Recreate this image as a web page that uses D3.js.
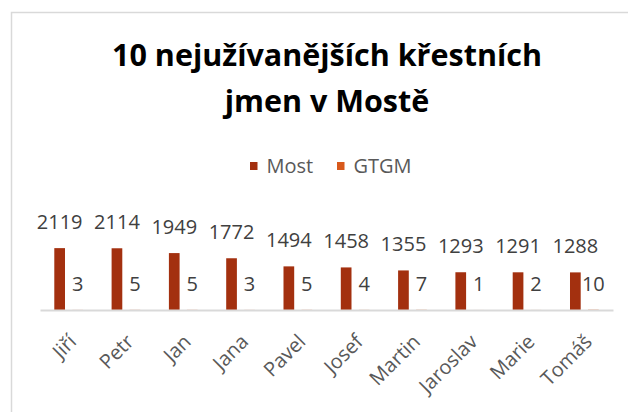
<!DOCTYPE html>
<html>
<head>
<meta charset="utf-8">
<script src="https://cdn.jsdelivr.net/npm/d3@7"></script>
<style>
  body { margin: 0; background: #fff; }
  svg { display: block; font-family: "Open Sans", sans-serif; }
</style>
</head>
<body>
<div id="chart-area"></div>
<script>
// data
var names = ["Jiří", "Petr", "Jan", "Jana", "Pavel", "Josef", "Martin", "Jaroslav", "Marie", "Tomáš"];
var most = [2119, 2114, 1949, 1772, 1494, 1458, 1355, 1293, 1291, 1288];
var gtgm = [3, 5, 5, 3, 5, 4, 7, 1, 2, 10];
var seriesNames = ["Most", "GTGM"];
var seriesColors = ["#a3300f", "#d8591c"];

var W = 628, H = 412;
var plot = { left: 40, right: 613, top: 237, bottom: 310 };

var svg = d3.select("#chart-area")
    .append("svg")
    .attr("width", W)
    .attr("height", H);

// chart frame (only top/left edges visible in the crop)
svg.append("rect")
    .attr("x", 11.5)
    .attr("y", 12.5)
    .attr("width", W + 20)
    .attr("height", H + 20)
    .attr("fill", "none")
    .attr("stroke", "#d9d9d9")
    .attr("stroke-width", 1.5);

// title
var title = svg.append("text")
    .attr("text-anchor", "middle")
    .attr("font-weight", "bold")
    .attr("font-size", "30.5px")
    .attr("fill", "#000");
title.append("tspan").attr("x", 327).attr("y", 66).text("10 nejužívanějších křestních");
title.append("tspan").attr("x", 327).attr("y", 112).text("jmen v Mostě");

// legend
var legendX = [250, 337];
var legend = svg.selectAll(".legend")
    .data(seriesNames)
    .enter()
    .append("g")
    .attr("class", "legend")
    .attr("transform", function (d, i) {
        return "translate(" + legendX[i] + ", 162)";
    });
legend.append("rect")
    .attr("width", 7.5)
    .attr("height", 8)
    .attr("fill", function (d, i) { return seriesColors[i]; });
legend.append("text")
    .attr("x", 16.5)
    .attr("y", 10.5)
    .attr("font-size", "20px")
    .attr("fill", "#595959")
    .text(function (d) { return d; });

// scales
var x = d3.scaleBand()
    .domain(names)
    .range([plot.left, plot.right]);

var xs = d3.scaleBand()
    .domain(seriesNames)
    .range([0, x.bandwidth()])
    .paddingInner(0.406)
    .paddingOuter(0.794);

var y = d3.scaleLinear()
    .domain([0, 2500])
    .range([plot.bottom, plot.top]);

var rows = names.map(function (n, i) {
    return { name: n, values: [most[i], gtgm[i]] };
});

// bars
var groups = svg.selectAll(".cat")
    .data(rows)
    .enter()
    .append("g")
    .attr("class", "cat")
    .attr("transform", function (d) { return "translate(" + x(d.name) + ",0)"; });

groups.selectAll("rect")
    .data(function (d) {
        return d.values.map(function (v, i) { return { s: seriesNames[i], v: v, i: i }; });
    })
    .enter()
    .append("rect")
    .attr("x", function (d) { return xs(d.s); })
    .attr("width", xs.bandwidth())
    .attr("y", function (d) { return y(d.v); })
    .attr("height", function (d) { return y(0) - y(d.v); })
    .attr("fill", function (d) { return seriesColors[d.i]; });

// data labels
groups.selectAll("text")
    .data(function (d) {
        return d.values.map(function (v, i) { return { s: seriesNames[i], v: v }; });
    })
    .enter()
    .append("text")
    .attr("x", function (d) { return xs(d.s) + xs.bandwidth() / 2; })
    .attr("y", function (d) { return y(d.v) - 19; })
    .attr("text-anchor", "middle")
    .attr("font-size", "20px")
    .attr("fill", "#404040")
    .text(function (d) { return d.v; });

// x axis
var xAxis = svg.append("g")
    .attr("transform", "translate(0," + plot.bottom + ")")
    .call(d3.axisBottom(x).tickSize(0).tickPadding(0));
xAxis.select(".domain")
    .attr("stroke", "#d9d9d9")
    .attr("stroke-width", 2);
xAxis.selectAll("text")
    .attr("font-family", "'Open Sans', sans-serif")
    .attr("font-size", "20px")
    .attr("fill", "#595959")
    .attr("text-anchor", "end")
    .attr("dy", 0)
    .attr("y", 0)
    .attr("transform", "translate(9, 33) rotate(-45)");
</script>
</body>
</html>
